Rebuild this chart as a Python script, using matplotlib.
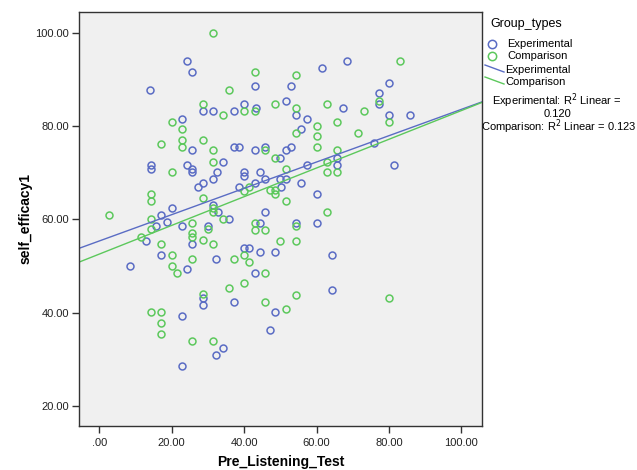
import numpy as np
import matplotlib.pyplot as plt
from matplotlib.lines import Line2D

plt.rcParams['font.family'] = ['Liberation Sans', 'DejaVu Sans']

# Experimental group (Pre_Listening_Test, self_efficacy1)
exp_x = [24.3, 25.7, 14.1, 28.6, 31.4, 22.8, 25.7, 68.5, 61.5, 42.9, 53.0, 40.1, 43.4, 51.6,
         67.2, 37.1, 54.3, 57.3, 55.8, 37.1, 38.6, 42.9, 45.9, 51.6, 53.0, 80.1, 77.2, 77.2,
         80.1, 85.9, 75.9, 14.3, 14.3, 24.3, 25.7, 25.7, 32.5, 31.4, 28.6, 27.2, 20.0, 31.5,
         32.9, 17.1, 18.6, 15.7, 22.8, 30.0, 12.8, 25.7, 17.1, 32.3, 8.5, 24.3, 34.3, 50.0,
         40.1, 40.1, 44.4, 45.9, 50.0, 51.6, 43.0, 38.7, 50.2, 55.8, 57.3, 65.7, 65.7, 60.0,
         45.9, 35.7, 44.4, 54.3, 60.0, 40.1, 41.4, 44.4, 48.6, 64.4, 43.0, 64.4, 81.5, 28.6,
         28.6, 22.8, 32.3, 34.3, 22.8, 37.1, 48.6, 47.2]
exp_y = [93.9, 91.6, 87.8, 83.2, 83.2, 81.6, 74.8, 94.0, 92.4, 88.6, 88.6, 84.7, 83.9, 85.5,
         83.9, 83.2, 82.4, 81.6, 79.4, 75.5, 75.5, 74.8, 75.5, 74.8, 75.5, 89.3, 87.1, 84.7,
         82.4, 82.4, 76.3, 71.6, 70.8, 71.6, 70.9, 70.1, 70.1, 68.6, 67.8, 67.0, 62.4, 63.2,
         61.6, 60.9, 59.4, 58.6, 58.6, 58.6, 55.4, 54.8, 52.4, 51.6, 50.1, 49.4, 72.3, 73.1,
         70.2, 69.4, 70.1, 68.6, 68.6, 68.6, 67.8, 67.0, 67.0, 67.8, 71.6, 73.1, 71.6, 65.5,
         61.6, 60.1, 59.3, 59.3, 59.3, 53.9, 53.9, 53.1, 53.1, 52.4, 48.6, 44.9, 71.6, 43.1,
         41.6, 39.3, 30.9, 32.4, 28.6, 42.3, 40.1, 36.2]

# Comparison group
cmp_x = [31.4, 28.6, 20.0, 22.8, 22.8, 28.6, 17.1, 22.8, 31.4, 42.9, 54.3, 35.7, 48.6, 62.9,
         54.3, 34.3, 40.1, 42.9, 65.7, 60.0, 54.3, 60.0, 60.0, 65.7, 45.9, 83.0, 77.2, 73.0,
         80.1, 71.5, 31.4, 20.0, 14.3, 14.3, 28.6, 31.5, 31.5, 2.8, 14.3, 25.7, 30.0, 14.3,
         11.4, 25.7, 25.7, 28.6, 17.1, 31.4, 20.0, 25.7, 20.0, 21.5, 28.6, 48.6, 51.6, 62.8,
         62.8, 65.7, 41.4, 40.1, 47.2, 48.6, 48.6, 51.6, 62.8, 34.3, 43.0, 43.0, 45.9, 54.3,
         50.0, 54.3, 40.1, 37.1, 41.4, 45.9, 40.1, 35.7, 54.3, 80.1, 14.3, 17.1, 17.1, 17.1,
         25.7, 31.4, 45.8, 51.5]
cmp_y = [100.1, 84.7, 80.9, 79.4, 77.1, 77.1, 76.2, 75.5, 74.8, 91.6, 90.9, 87.8, 84.7, 84.7,
         83.9, 82.4, 83.2, 83.2, 80.9, 80.1, 78.6, 77.8, 75.5, 74.8, 74.8, 93.9, 85.5, 83.2,
         80.9, 78.6, 72.3, 70.1, 65.5, 63.9, 64.7, 62.4, 61.6, 60.9, 60.1, 59.3, 57.9, 57.9,
         56.3, 57.1, 56.3, 55.5, 54.7, 54.8, 52.4, 51.6, 50.1, 48.6, 44.0, 73.1, 70.8, 72.3,
         70.1, 70.1, 67.0, 66.2, 66.3, 66.3, 65.4, 63.9, 61.6, 60.1, 59.3, 57.7, 57.7, 58.6,
         55.4, 55.4, 52.4, 51.6, 50.9, 48.6, 46.4, 45.4, 43.8, 43.1, 40.1, 40.1, 37.8, 35.5,
         33.9, 33.9, 42.3, 40.9]

x_ticks = [0, 20, 40, 60, 80, 100]
x_labels = ['.00', '20.00', '40.00', '60.00', '80.00', '100.00']
y_ticks = [20, 40, 60, 80, 100]
y_labels = ['20.00', '40.00', '60.00', '80.00', '100.00']

blue = '#5a6cc4'
green = '#5cc85c'

W, H = 637, 470
fig = plt.figure(figsize=(W / 100, H / 100), dpi=100)
ax = fig.add_axes([79 / W, 1 - 426 / H, (482 - 79) / W, (426 - 12) / H])
ax.set_facecolor('#f0f0f0')

ax.plot(exp_x, exp_y, 'o', mfc='none', mec=blue, ms=5, mew=1.1)
ax.plot(cmp_x, cmp_y, 'o', mfc='none', mec=green, ms=5, mew=1.1)

ax.set_xlim(-5.6, 105.7)
ax.set_ylim(15.7, 104.5)

# linear fit lines across the full axis
xs = np.array(ax.get_xlim())
for gx, gy, c in [(exp_x, exp_y, blue), (cmp_x, cmp_y, green)]:
    k, b = np.polyfit(gx, gy, 1)
    ax.plot(xs, k * xs + b, color=c, lw=1)

ax.set_xticks(x_ticks)
ax.set_xticklabels(x_labels)
ax.set_yticks(y_ticks)
ax.set_yticklabels(y_labels)
ax.tick_params(labelsize=8, length=5, width=1, color='#333333', labelcolor='#222222')
ax.tick_params(axis='y', pad=2)
for s in ax.spines.values():
    s.set_color('#333333')
    s.set_linewidth(1)

ax.set_xlabel('Pre_Listening_Test', fontsize=10, fontweight='bold', labelpad=5)
ax.set_ylabel('self_efficacy1', fontsize=10, fontweight='bold', labelpad=2)


def fx(px):
    return px / W


def fy(py):
    return 1 - py / H


# legend outside on the right
fig.text(fx(490), fy(24), 'Group_types', fontsize=9, va='center', ha='left')
fig.add_artist(Line2D([fx(492)], [fy(43.5)], marker='o', mfc='none', mec=blue, ms=6, mew=1.1))
fig.add_artist(Line2D([fx(492)], [fy(56)], marker='o', mfc='none', mec=green, ms=6, mew=1.1))
fig.text(fx(507), fy(44), 'Experimental', fontsize=8, va='center')
fig.text(fx(507), fy(56), 'Comparison', fontsize=8, va='center')
fig.add_artist(Line2D([fx(485), fx(504)], [fy(65), fy(72)], color=blue, lw=1))
fig.add_artist(Line2D([fx(485), fx(504)], [fy(77), fy(84)], color=green, lw=1))
fig.text(fx(505), fy(70), 'Experimental', fontsize=8, va='center')
fig.text(fx(505), fy(82), 'Comparison', fontsize=8, va='center')

fig.text(fx(557), fy(101), 'Experimental: R$^2$ Linear =', fontsize=8, ha='center', va='center')
fig.text(fx(557), fy(114), '0.120', fontsize=8, ha='center', va='center')
fig.text(fx(559), fy(127), 'Comparison: R$^2$ Linear = 0.123', fontsize=8, ha='center', va='center')

fig.savefig('out.png', dpi=100, facecolor='white')
